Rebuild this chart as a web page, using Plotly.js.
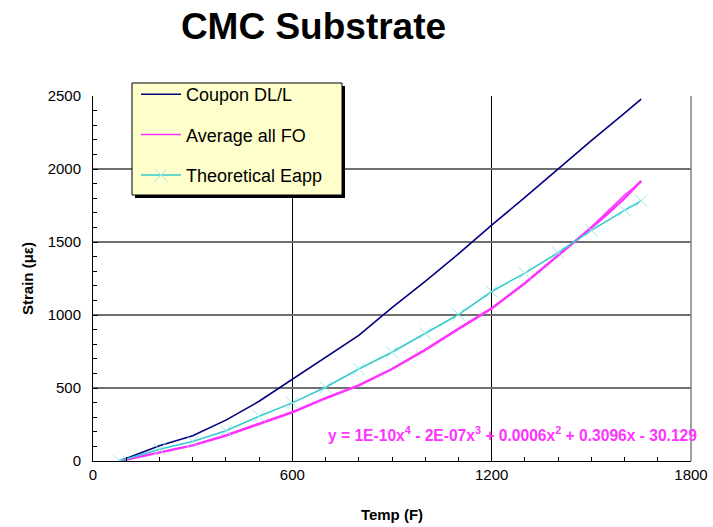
<!DOCTYPE html>
<html>
<head>
<meta charset="utf-8">
<script src="https://cdn.plot.ly/plotly-3.0.1.min.js"></script>
<style>html,body{margin:0;padding:0;background:#fff;}#chart{width:713px;height:527px;}</style>
</head>
<body>
<div id="chart"></div>
<script>
// ---- data ----
const tempCoupon = [80, 200, 300, 400, 500, 600, 700, 800, 900, 1000, 1100, 1200, 1300, 1400, 1500, 1600, 1650];
const strainCoupon = [0, 105, 173, 280, 409, 559, 712, 860, 1050, 1230, 1418, 1616, 1805, 2003, 2195, 2382, 2478];

const tempFO = [80, 200, 300, 400, 500, 600, 700, 800, 900, 1000, 1100, 1200, 1300, 1400, 1500, 1550, 1600, 1650];
const strainFO = [0, 59, 107, 175, 252, 334, 430, 518, 630, 761, 905, 1045, 1218, 1406, 1602, 1715, 1822, 1912];

const tempTrend = [80, 200, 300, 400, 500, 600, 700, 800, 900, 1000, 1100, 1200, 1300, 1400, 1500, 1550, 1600, 1650];
const strainTrend = [0, 59, 107, 175, 252, 334, 430, 518, 630, 761, 905, 1045, 1218, 1406, 1598, 1695, 1800, 1918];

const tempEapp = [80, 200, 300, 400, 500, 600, 700, 800, 900, 1000, 1100, 1200, 1300, 1400, 1500, 1600, 1650];
const strainEapp = [0, 80, 134, 207, 307, 398, 505, 630, 745, 875, 1003, 1161, 1287, 1427, 1580, 1717, 1782];

const seriesNames = ['Coupon DL/L', 'Average all FO', 'Theoretical Eapp'];
const trendEquation = 'y = 1E-10x<sup>4</sup> - 2E-07x<sup>3</sup> + 0.0006x<sup>2</sup> + 0.3096x - 30.129';

const F = "Arial, 'Liberation Sans', sans-serif";

const traces = [
  {x: tempCoupon, y: strainCoupon, name: seriesNames[0], mode: 'lines', legendgroup: 'a',
   line: {color: '#000080', width: 1.6}},
  {x: tempFO, y: strainFO, name: seriesNames[1], mode: 'lines', legendgroup: 'b',
   line: {color: '#ff33ff', width: 1.5}},
  {x: tempTrend, y: strainTrend, name: 'Poly. (Average all FO)', mode: 'lines', showlegend: false,
   line: {color: '#ff33ff', width: 2.5}},
  {x: tempEapp, y: strainEapp, name: seriesNames[2], mode: 'lines+markers', legendgroup: 'c',
   line: {color: '#33cccc', width: 1.6},
   marker: {symbol: 'x-thin', size: 12, color: '#99e8e8', line: {width: 1, color: '#99e8e8'}}}
];

const L = 93, R = 22, T = 96, B = 66;
const W = 713, H = 527;
const pw = W - L - R, ph = H - T - B;
const px = v => (v - L) / pw;
const py = v => (H - B - v) / ph;

const layout = {
  width: W, height: H,
  margin: {l: L, r: R, t: T, b: B},
  paper_bgcolor: '#ffffff', plot_bgcolor: '#ffffff',
  font: {family: F, color: '#000000'},
  showlegend: true,
  title: {text: '<b>CMC Substrate</b>', font: {size: 37, family: F, color: '#000'},
          x: 313.5 / W, xanchor: 'center', xref: 'container',
          y: 1 - 26 / H, yanchor: 'middle', yref: 'container'},
  xaxis: {range: [0, 1800], tick0: 0, dtick: 600, ticks: 'inside', ticklen: 5, tickcolor: '#000',
          showline: true, linecolor: '#000', linewidth: 1, showgrid: true, gridcolor: '#000', gridwidth: 1,
          zeroline: false, tickfont: {size: 15}, fixedrange: true,
          minor: {dtick: 100, ticks: 'inside', ticklen: 4, tickcolor: '#000', showgrid: false},
          title: {text: '<b>Temp (F)</b>', font: {size: 15}, standoff: 27}},
  yaxis: {range: [0, 2500], tick0: 0, dtick: 500, ticks: 'inside', ticklen: 5, tickcolor: '#000',
          showline: true, linecolor: '#000', linewidth: 1, showgrid: true, gridcolor: '#707070', gridwidth: 1.5,
          zeroline: false, tickfont: {size: 15}, ticklabelstandoff: 8, fixedrange: true,
          minor: {dtick: 100, ticks: 'inside', ticklen: 4, tickcolor: '#000', showgrid: false},
          title: {text: '<b>Strain (με)</b>', font: {size: 15}, standoff: 10}},
  legend: {x: px(136), y: py(76), xanchor: 'left', yanchor: 'top', bgcolor: 'rgba(0,0,0,0)',
           borderwidth: 0, font: {size: 18, family: F}, traceorder: 'grouped',
           tracegroupgap: 14, itemwidth: 40},
  shapes: [
    {type: 'rect', xref: 'paper', yref: 'paper', x0: px(135), x1: px(345), y0: py(86), y1: py(198),
     fillcolor: '#000', line: {width: 0}, layer: 'above'},
    {type: 'rect', xref: 'paper', yref: 'paper', x0: px(132), x1: px(342), y0: py(83), y1: py(195),
     fillcolor: '#ffffcc', line: {width: 1, color: '#000'}, layer: 'above'},
    {type: 'line', xref: 'paper', yref: 'paper', x0: 1, x1: 1, y0: 0, y1: 1,
     line: {color: '#808080', width: 1.5}, layer: 'above'}
  ],
  annotations: [
    {text: '<b>' + trendEquation + '</b>', xref: 'paper', yref: 'paper', x: px(512), y: py(434),
     xanchor: 'center', yanchor: 'middle', showarrow: false, font: {size: 15.6, color: '#ff33ff', family: F}}
  ]
};

Plotly.newPlot('chart', traces, layout, {displayModeBar: false, staticPlot: true});
</script>
</body>
</html>
